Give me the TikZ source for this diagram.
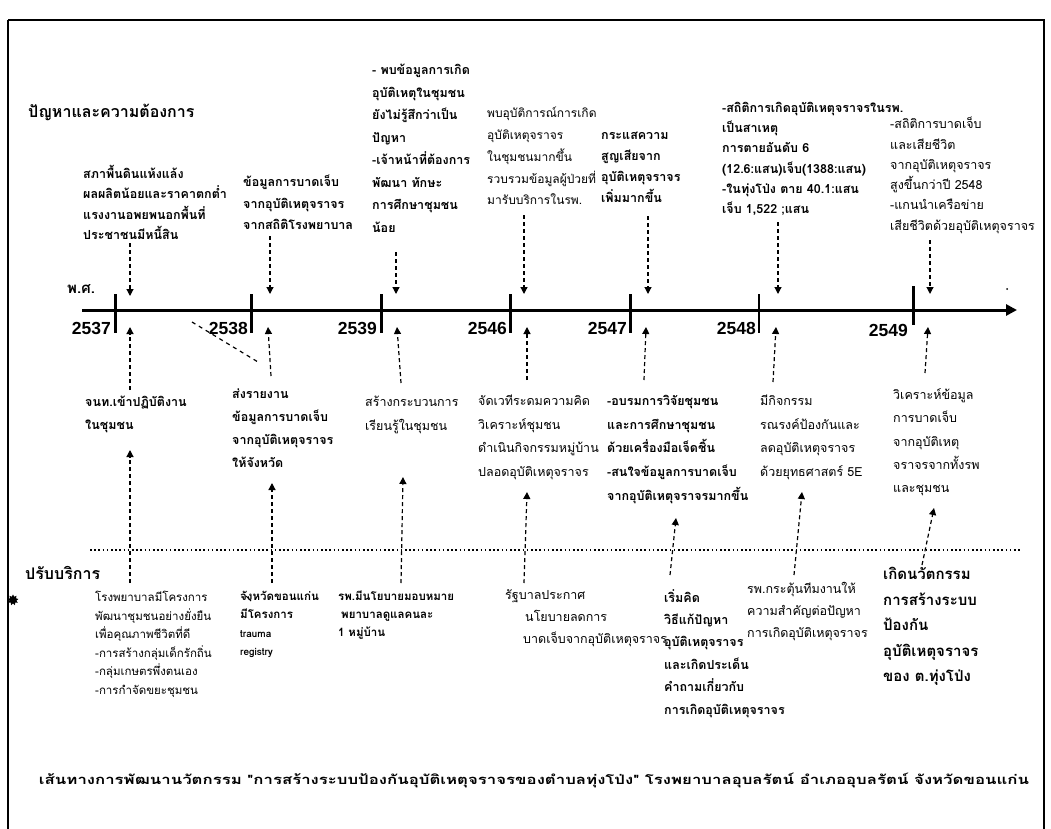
\documentclass[tikz,border=0pt]{standalone}
\usepackage{fontspec}
\usepackage{graphicx}
\usetikzlibrary{arrows.meta,shapes.geometric}
\setmainfont{Liberation Sans}
\newfontfamily\thai[Script=Thai]{Loma}
\begin{document}
\begin{tikzpicture}[x=1pt,y=-1pt,
  tx/.style={anchor=north west, align=left, inner sep=0pt, execute at begin node=\strut},
  tb/.style={tx, font=\thai\bfseries\fontsize{12.5}{#1}\selectfont},
  tr/.style={tx, font=\thai\fontsize{12.5}{#1}\selectfont},
  sb/.style={tx, font=\thai\bfseries\fontsize{11.5}{#1}\selectfont},
  sr/.style={tx, font=\thai\fontsize{11.5}{#1}\selectfont},
  head/.style={anchor=west, inner sep=0pt, font=\thai\bfseries\fontsize{16}{18}\selectfont},
  yr/.style={anchor=east, inner sep=0pt, font=\bfseries\fontsize{17.5}{19}\selectfont},
  darr/.style={line width=1.2pt, dash pattern=on 4pt off 3pt, -{Triangle[width=7pt,length=7pt]}},
  tick/.style={line width=3pt},
]
\useasboundingbox (0,0) rectangle (1051,829);
% frame
\draw[line width=2pt] (8,840) -- (8,20);
\draw[line width=1.1pt] (8,20) -- (1044,20) -- (1044,840);

% headings
\node[head] (h1) at (28,112) {ปัญหาและความต้องการ};
\node[head] (h2) at (25,573) {ปรับบริการ};
\node[anchor=west, inner sep=0pt, font=\thai\bfseries\fontsize{15}{17}\selectfont] (ps) at (67,289) {พ.ศ.};

% axis
\coordinate (axs) at (82,310);
\coordinate (axe) at (1017,310);
\draw[line width=3pt, -{Triangle[width=11pt,length=11pt]}] (axs) -- (axe);
\draw[tick] (115,294) -- (115,333);
\draw[tick] (251,294) -- (251,333);
\draw[tick] (381,294) -- (381,333);
\draw[tick] (510,294) -- (510,333);
\draw[tick] (630,294) -- (630,333);
\draw[line width=2pt] (759,294) -- (759,333);
\draw[tick] (913,286) -- (913,325);
\node[yr] (y1) at (111,328) {2537};
\node[yr] (y2) at (248,328) {2538};
\node[yr] (y3) at (377,328) {2539};
\node[yr] (y4) at (507,328) {2546};
\node[yr] (y5) at (627,328) {2547};
\node[yr] (y6) at (756,328) {2548};
\node[yr] (y7) at (908,330) {2549};

% top texts
\node[tb=20.5] (t1) at (83,165) {สภาพื้นดินแห้งแล้ง\\ผลผลิตน้อยและราคาตกต่ำ\\แรงงานอพยพนอกพื้นที่\\ประชาชนมีหนี้สิน};
\node[tb=21.5] (t2) at (243,175) {ข้อมูลการบาดเจ็บ\\จากอุบัติเหตุจราจร\\จากสถิติโรงพยาบาล};
\node[tb=22.5] (t3) at (372,64) {- พบข้อมูลการเกิด\\อุบัติเหตุในชุมชน\\ยังไม่รู้สึกว่าเป็น\\ปัญหา\\-เจ้าหน้าที่ต้องการ\\พัฒนา ทักษะ\\การศึกษาชุมชน\\น้อย};
\node[tx, font=\thai\fontsize{12}{21.8}\selectfont] (t4) at (487,107) {พบอุบัติการณ์การเกิด\\อุบัติเหตุจราจร\\ในชุมชนมากขึ้น\\รวบรวมข้อมูลผู้ป่วยที่\\มารับบริการในรพ.};
\node[tb=21] (t5) at (601,132) {กระแสความ\\สูญเสียจาก\\อุบัติเหตุจราจร\\เพิ่มมากขึ้น};
\node[tb=20.2] (t6) at (722,102) {-สถิติการเกิดอุบัติเหตุจราจรในรพ.\\เป็นสาเหตุ\\การตายอันดับ 6\\(12.6:แสน)เจ็บ(1388:แสน)\\-ในทุ่งโป่ง ตาย 40.1:แสน\\เจ็บ 1,522 ;แสน};
\node[tr=20.3] (t7) at (890,117) {-สถิติการบาดเจ็บ\\และเสียชีวิต\\จากอุบัติเหตุจราจร\\สูงขึ้นกว่าปี 2548\\-แกนนำเครือข่าย\\เสียชีวิตด้วยอุบัติเหตุจราจร};

% middle texts
\node[tb=23] (m1) at (85,395.5) {จนท.เข้าปฏิบัติงาน\\ในชุมชน};
\node[tb=23] (m2) at (232,388.5) {ส่งรายงาน\\ข้อมูลการบาดเจ็บ\\จากอุบัติเหตุจราจร\\ให้จังหวัด};
\node[tr=24] (m3) at (365,396) {สร้างกระบวนการ\\เรียนรู้ในชุมชน};
\node[tr=23.5] (m4) at (478,395) {จัดเวทีระดมความคิด\\วิเคราะห์ชุมชน\\ดำเนินกิจกรรมหมู่บ้าน\\ปลอดอุบัติเหตุจราจร};
\node[tb=23.7] (m5) at (607,395) {-อบรมการวิจัยชุมชน\\และการศึกษาชุมชน\\ด้วยเครื่องมือเจ็ดชิ้น\\-สนใจข้อมูลการบาดเจ็บ\\จากอุบัติเหตุจราจรมากขึ้น};
\node[tr=23.5] (m6) at (760,395) {มีกิจกรรม\\รณรงค์ป้องกันและ\\ลดอุบัติเหตุจราจร\\ด้วยยุทธศาสตร์ 5E};
\node[tr=23.2] (m7) at (893,388.5) {วิเคราะห์ข้อมูล\\การบาดเจ็บ\\จากอุบัติเหตุ\\จราจรจากทั้งรพ\\และชุมชน};

% dotted separator
\coordinate (ds) at (90,550);
\coordinate (de) at (1020,550);
\draw[line width=1.6pt, dash pattern=on 1.6pt off 2.6pt] (ds) -- (de);

% bottom texts
\node[sr=18.5] (b1) at (95,591) {โรงพยาบาลมีโครงการ\\พัฒนาชุมชนอย่างยั่งยืน\\เพื่อคุณภาพชีวิตที่ดี\\-การสร้างกลุ่มเด็กรักถิ่น\\-กลุ่มเกษตรพึ่งตนเอง\\-การกำจัดขยะชุมชน};
\node[sb=18.5] (b2) at (240,591) {จังหวัดขอนแก่น\\มีโครงการ\\{\bfseries\fontsize{10}{12}\selectfont trauma}\\{\bfseries\fontsize{10}{12}\selectfont registry}};
\node[sb=18] (b3) at (338,591) {รพ.มีนโยบายมอบหมาย\\\hspace*{3pt}พยาบาลดูแลคนละ\\1 หมู่บ้าน};
\node[tr=22] (b4) at (505,589) {รัฐบาลประกาศ\\\hspace*{20pt}นโยบายลดการ\\\hspace*{18pt}บาดเจ็บจากอุบัติเหตุจราจร};
\node[tb=22.4] (b5) at (664,589) {เริ่มคิด\\วิธีแก้ปัญหา\\อุบัติเหตุจราจร\\และเกิดประเด็น\\คำถามเกี่ยวกับ\\การเกิดอุบัติเหตุจราจร};
\node[tr=22] (b6) at (747,582) {รพ.กระตุ้นทีมงานให้\\ความสำคัญต่อปัญหา\\การเกิดอุบัติเหตุจราจร};
\node[tx, font=\thai\bfseries\fontsize{15}{25.5}\selectfont] (b7) at (883,567) {เกิดนวัตกรรม\\การสร้างระบบ\\ป้องกัน\\อุบัติเหตุจราจร\\ของ ต.ทุ่งโป่ง};

% caption
\node[inner sep=0pt] (cap) at (534,780) {\resizebox{990pt}{\height}{\thai\bfseries\fontsize{13}{15}\selectfont เส้นทางการพัฒนานวัตกรรม "การสร้างระบบป้องกันอุบัติเหตุจราจรของตำบลทุ่งโป่ง" โรงพยาบาลอุบลรัตน์ อำเภออุบลรัตน์ จังหวัดขอนแก่น}};

% arrows: top texts -> axis
\coordinate (a1s) at (130,243); \coordinate (a1e) at (130,296);
\coordinate (a2s) at (270,236); \coordinate (a2e) at (270,294);
\coordinate (a3s) at (396,252); \coordinate (a3e) at (396,294);
\coordinate (a4s) at (524,215); \coordinate (a4e) at (524,294);
\coordinate (a5s) at (648,216); \coordinate (a5e) at (648,294);
\coordinate (a6s) at (778,222); \coordinate (a6e) at (778,294);
\coordinate (a7s) at (930,240); \coordinate (a7e) at (930,294);
\foreach \i in {1,...,7} {\draw[darr] (a\i s) -- (a\i e);}

% arrows: middle texts -> axis (upward)
\coordinate (u1s) at (130,390); \coordinate (u1e) at (130,327);
\coordinate (u2s) at (271,376); \coordinate (u2e) at (268,327);
\coordinate (u3s) at (401,383); \coordinate (u3e) at (397,327);
\coordinate (u4s) at (527,380); \coordinate (u4e) at (527,327);
\coordinate (u5s) at (644,380); \coordinate (u5e) at (646,327);
\coordinate (u6s) at (773,382); \coordinate (u6e) at (776,327);
\coordinate (u7s) at (925,373); \coordinate (u7e) at (928,327);
\foreach \i in {1,...,7} {\draw[darr] (u\i s) -- (u\i e);}

% arrows: bottom texts -> middle texts
\coordinate (w1s) at (130,583); \coordinate (w1e) at (130,450);
\coordinate (w2s) at (272,583); \coordinate (w2e) at (272,483);
\coordinate (w3s) at (401,583); \coordinate (w3e) at (403,477);
\coordinate (w4s) at (524,583); \coordinate (w4e) at (527,492);
\coordinate (w5s) at (670,575); \coordinate (w5e) at (676,518);
\coordinate (w6s) at (794,575); \coordinate (w6e) at (802,492);
\coordinate (w7s) at (922,565); \coordinate (w7e) at (934,508);
\foreach \i in {1,...,7} {\draw[darr] (w\i s) -- (w\i e);}

% stray marks of the scan
\coordinate (s1) at (192,322); \coordinate (s2) at (258,362);
\draw[line width=1.2pt, dash pattern=on 4pt off 4pt] (s1) -- (s2);
\coordinate (s3) at (246,596); \coordinate (s4) at (251,601);
\draw[line width=1pt] (s3) -- (s4);
\node[star, star points=9, star point ratio=1.6, fill=black, inner sep=0pt, minimum size=11pt] (blob) at (13,600) {};
\node[circle, fill=black, inner sep=0pt, minimum size=2pt] (dot) at (1007,289) {};
\end{tikzpicture}
\end{document}
